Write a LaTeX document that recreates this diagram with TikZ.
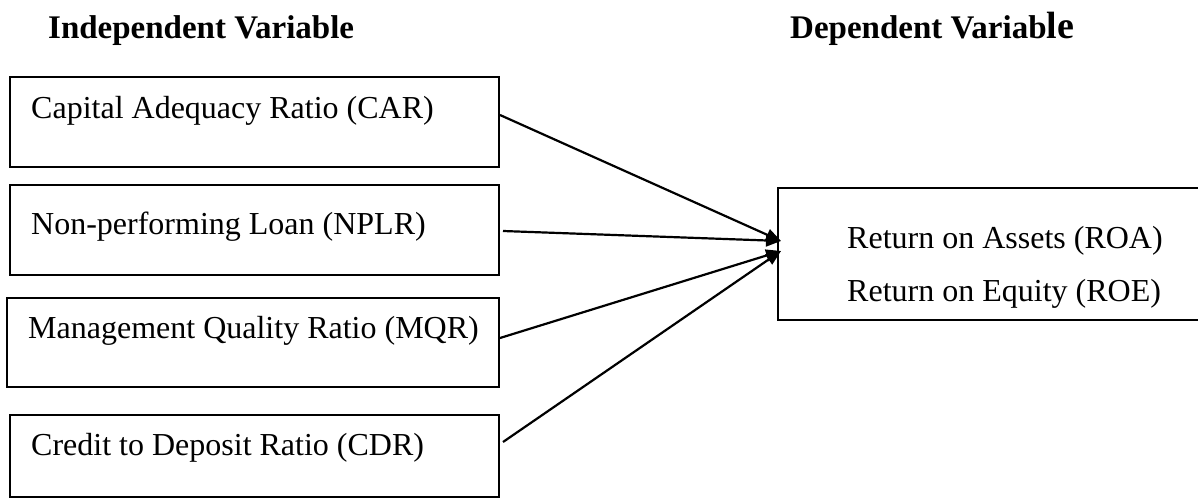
\documentclass[tikz,border=0pt]{standalone}
\usepackage{fontspec}
\setmainfont{Liberation Serif}
\usetikzlibrary{arrows.meta,calc}
\begin{document}
\begin{tikzpicture}[x=1pt,y=-1pt,
  box/.style={draw=black,line width=2pt,rectangle,inner sep=0pt},
  lbl/.style={inner sep=0pt,anchor=base west,font=\fontsize{32}{38}\selectfont},
  ttl/.style={inner sep=0pt,anchor=base west,font=\fontsize{33}{38}\selectfont\bfseries},
  conn/.style={line width=2.2pt,-{Triangle[length=15pt,width=12pt]}}]
\useasboundingbox (0,0) rectangle (1198,500);
% titles
\node[ttl] (tin) at (48,39) {Independent Variable};
\node[ttl] (tdep) at (790,39) {Dependent Variab{\fontsize{38}{40}\selectfont le}};
% left boxes
\node[box,minimum width=489pt,minimum height=90pt] (car) at (254.5,122) {};
\node[box,minimum width=489pt,minimum height=90pt] (npl) at (254.5,230) {};
\node[box,minimum width=492pt,minimum height=89pt] (mqr) at (253,342.5) {};
\node[box,minimum width=489pt,minimum height=82pt] (cdr) at (254.5,456) {};
\node[lbl] (carT) at (31,118) {Capital Adequacy Ratio (CAR)};
\node[lbl] (nplT) at (31,234) {Non-performing Loan (NPLR)};
\node[lbl] (mqrT) at (28,338) {Management Quality Ratio (MQR)};
\node[lbl] (cdrT) at (31,455) {Credit to Deposit Ratio (CDR)};
% right box
\node[box,minimum width=424pt,minimum height=132pt] (res) at (990,254) {};
\node[lbl] (roaT) at (847,248) {Return on Assets (ROA)};
\node[lbl] (roeT) at (847,301) {Return on Equity (ROE)};
% targets
\coordinate (t1) at ($(res.west)+(4,-13)$);
\coordinate (t2) at ($(res.west)+(4,-3)$);
% connectors
\draw[conn] ($(car.north east)+(0,39)$) -- (t1);
\draw[conn] ($(npl.north east)+(3,47)$) -- (t1);
\draw[conn] ($(mqr.north east)+(0,41)$) -- (t2);
\draw[conn] ($(cdr.north east)+(3,28)$) -- (t2);
\end{tikzpicture}
\end{document}
